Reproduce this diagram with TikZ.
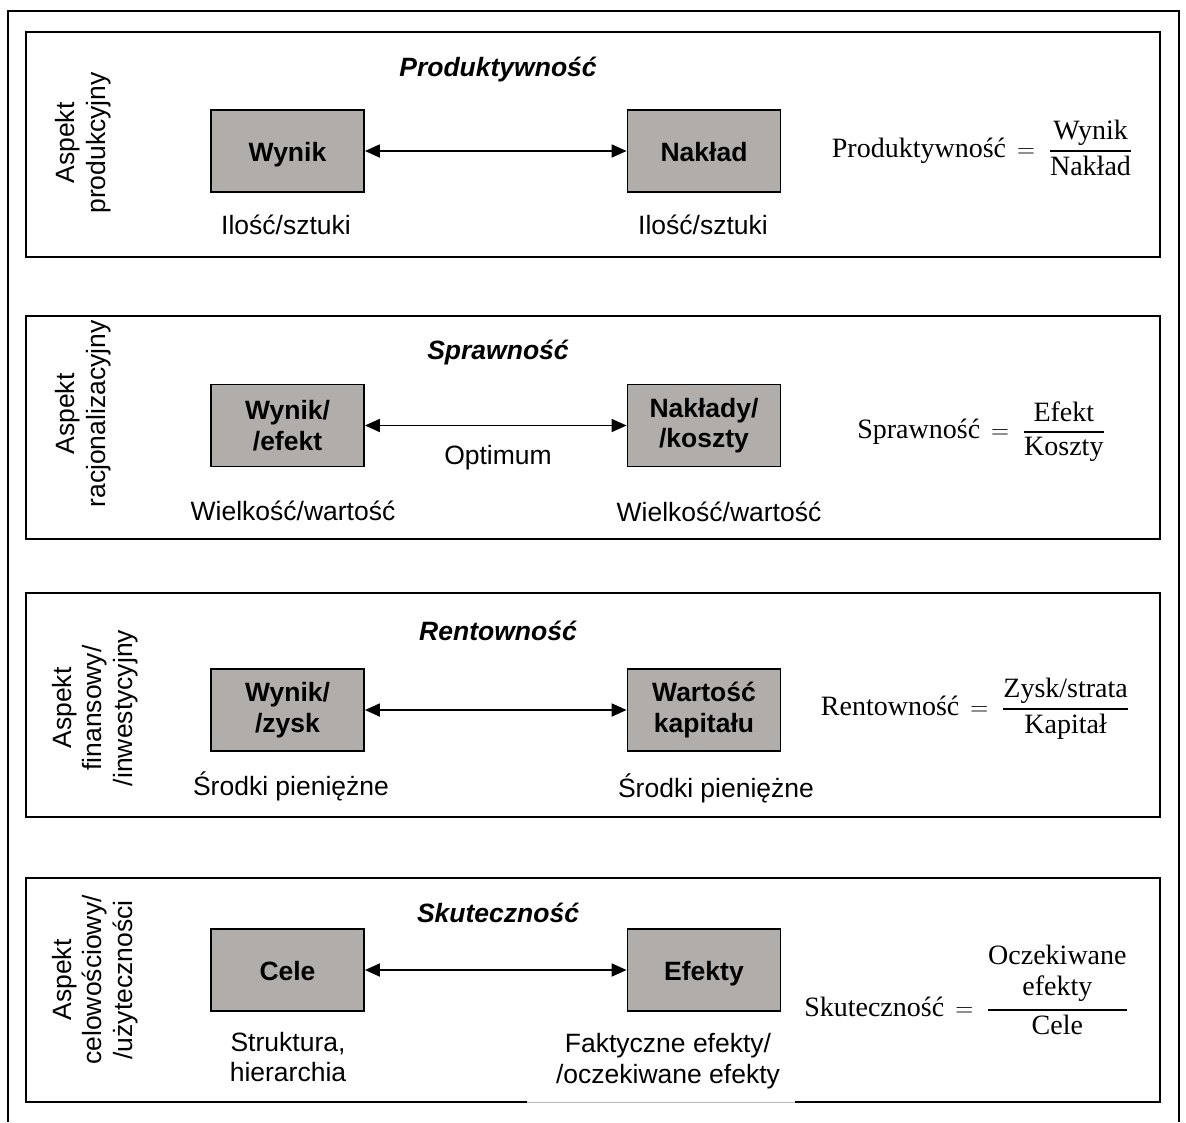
\documentclass[tikz,border=0pt]{standalone}
\usepackage{amsmath}
\usepackage{fontspec}
\setmainfont{Liberation Sans}
\newfontfamily\formfont{Liberation Serif}
\usetikzlibrary{arrows.meta}
\definecolor{boxgray}{RGB}{177,173,171}
% fraction with a heavier bar
\newcommand{\ratio}[2]{\genfrac{}{}{1.5pt}{0}{#1}{#2}}
\begin{document}
\begin{tikzpicture}[x=1pt,y=-1pt,
  frame/.style={line width=2pt},
  panel/.style={line width=2pt},
  valbox/.style={draw, line width=1.8pt, fill=boxgray, minimum width=153pt,
    minimum height=82pt, inner sep=0pt, align=center,
    font=\fontsize{26.5}{30.5}\selectfont\bfseries},
  oneline/.style={text height=21pt, text depth=1pt},
  title/.style={inner sep=0pt, font=\fontsize{26.5}{30.5}\selectfont\bfseries\itshape},
  lbl/.style={inner sep=0pt, align=center, font=\fontsize{26.5}{30.5}\selectfont},
  aspect/.style={inner sep=0pt, align=center, rotate=90,
    font=\fontsize{26.5}{30.5}\selectfont},
  link/.style={line width=1.8pt,
    {Triangle[length=15pt,width=13pt]}-{Triangle[length=15pt,width=13pt]}},
  formula/.style={inner sep=0pt, anchor=base, font=\fontsize{28}{31}\selectfont\formfont}
]
\useasboundingbox (0,0) rectangle (1186,1122);

% outer frame, open at the bottom
\draw[frame] (8,1122) -- (8,11) -- (1179,11) -- (1179,1122);

% four aspect panels
\draw[panel] (26,32) rectangle (1160,257);
\draw[panel] (26,316) rectangle (1160,539);
\draw[panel] (26,593) rectangle (1160,817);
\draw[panel] (527,1102) -- (26,1102) -- (26,878) -- (1160,878) -- (1160,1102) -- (795,1102);
\draw[gray!55, line width=0.8pt] (527,1102) -- (795,1102);

% --- production aspect
\node[aspect] (a1) at (83,143) {Aspekt\\produkcyjny};
\node[title] (t1) at (498,70) {Produktywność};
\node[valbox, oneline] (w1) at (287.5,151) {Wynik};
\node[valbox, oneline] (n1) at (704,151) {Nakład};
\draw[link] (w1) -- (n1);
\node[lbl] (l1a) at (286,225) {Ilość/sztuki};
\node[lbl] (l1b) at (703,225) {Ilość/sztuki};
\node[formula] (f1) at (982,157) {$\text{Produktywność}\,=\;\ratio{\text{Wynik}}{\text{Nakład}}$};

% --- rationalisation aspect
\node[aspect] (a2) at (83,414) {Aspekt\\racjonalizacyjny};
\node[title] (t2) at (498,353) {Sprawność};
\node[valbox] (w2) at (287.5,425.5) {Wynik/\\/efekt};
\node[valbox] (n2) at (704,425.5) {Nakłady/\\/koszty};
\draw[link] (w2) -- (n2);
\node[lbl] (o2) at (498,458) {Optimum};
\node[lbl] (l2a) at (293,511) {Wielkość/wartość};
\node[lbl] (l2b) at (719,512) {Wielkość/wartość};
\node[formula] (f2) at (981,438) {$\text{Sprawność}\,=\;\ratio{\text{Efekt}}{\text{Koszty}}$};

% --- financial aspect
\node[aspect] (a3) at (95,708) {Aspekt\\finansowy/\\/inwestycyjny};
\node[title] (t3) at (498,631) {Rentowność};
\node[valbox] (w3) at (287.5,710) {Wynik/\\/zysk};
\node[valbox] (n3) at (704,710) {Wartość\\kapitału};
\draw[link] (w3) -- (n3);
\node[lbl] (l3a) at (291,786) {Środki pieniężne};
\node[lbl] (l3b) at (716,788) {Środki pieniężne};
\node[formula] (f3) at (975,715) {$\text{Rentowność}\,=\;\ratio{\text{Zysk/strata}}{\text{Kapitał}}$};

% --- goal aspect
\node[aspect] (a4) at (95,980) {Aspekt\\celowościowy/\\/użyteczności};
\node[title] (t4) at (498,913) {Skuteczność};
\node[valbox, oneline] (w4) at (287.5,970) {Cele};
\node[valbox, oneline] (n4) at (704,970) {Efekty};
\draw[link] (w4) -- (n4);
\node[lbl] (l4a) at (288,1057) {Struktura,\\hierarchia};
\node[lbl] (l4b) at (668,1061) {Faktyczne efekty/\\/oczekiwane efekty};
\node[formula] (f4) at (966,1016) {$\text{Skuteczność}\,=\;\ratio{\begin{tabular}[b]{@{}c@{}}Oczekiwane\\efekty\end{tabular}}{\text{Cele}}$};

\end{tikzpicture}
\end{document}
